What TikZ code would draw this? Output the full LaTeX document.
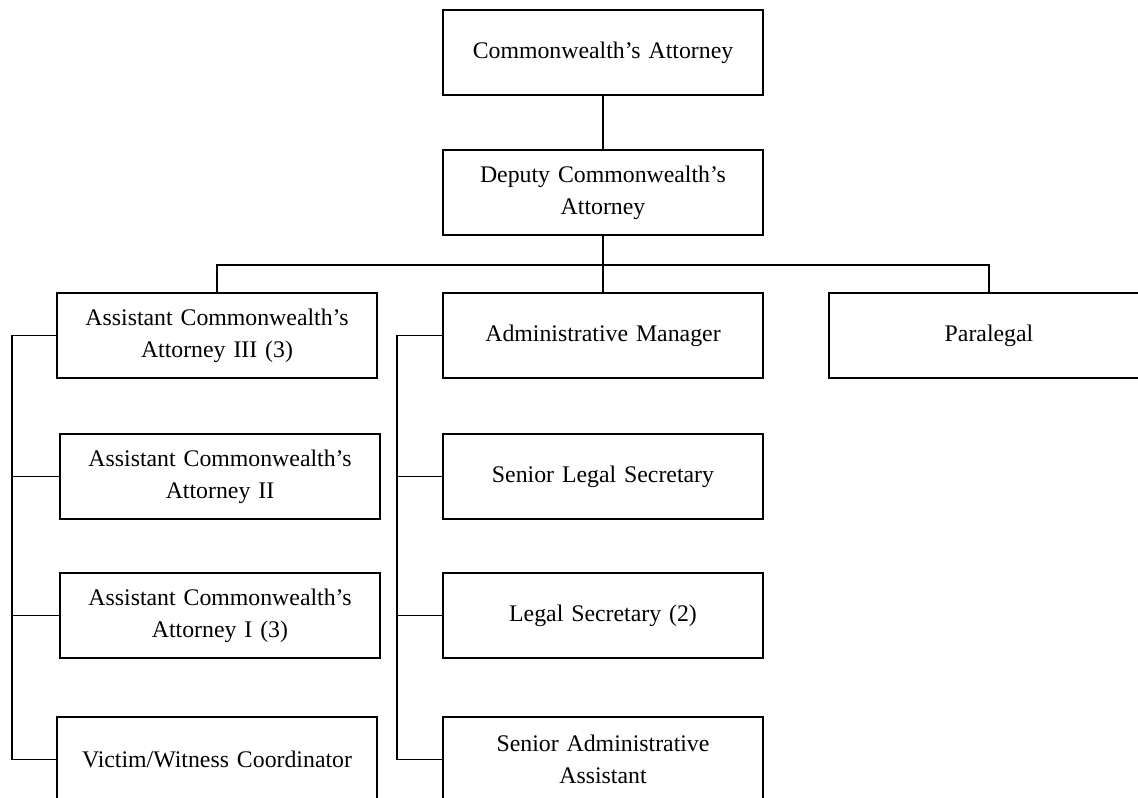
\documentclass[tikz,border=0pt]{standalone}
\usepackage{fontspec}
\setmainfont{Liberation Serif}
\usetikzlibrary{positioning}

\begin{document}
\begin{tikzpicture}[x=0.5pt,y=-0.5pt,node distance=28pt,line width=0.9pt,
    post/.style={rectangle,draw,line width=1pt,minimum width=160pt,minimum height=42.5pt,
        text width=155pt,align=center,font=\fontsize{11.9}{16}\selectfont,inner sep=0pt}]

    \useasboundingbox (0,0) rectangle (1138,797);
    \clip (0,0) rectangle (1138,797);

    \node[post] (ca) at (603,52.5) {Commonwealth’s Attorney};
    \node[post] (dca) [below=26.5pt of ca] {Deputy Commonwealth’s\\Attorney};

    % second row
    \node[post] (adm) [below=28pt of dca] {Administrative Manager};
    \node[post] (aca3) [left=32pt of adm] {Assistant Commonwealth’s\\Attorney III (3)};
    \node[post] (para) [right=32pt of adm] {Paralegal};

    % attorneys column
    \node[post] (aca2) [below=27pt of aca3, xshift=1.5pt] {Assistant Commonwealth’s\\Attorney II};
    \node[post] (aca1) [below=26pt of aca2] {Assistant Commonwealth’s\\Attorney I (3)};
    \node[post] (vwc) [below=28.5pt of aca1, xshift=-1.5pt] {Victim/Witness Coordinator};

    % admin column
    \node[post] (sls) [below=27pt of adm] {Senior Legal Secretary};
    \node[post] (ls) [below=26pt of sls] {Legal Secretary (2)};
    \node[post] (saa) [below=28.5pt of ls] {Senior Administrative\\Assistant};

    \coordinate (bus) at (603,265);
    \coordinate (lbus) at (12,0);
    \coordinate (abus) at (397,0);

    \draw (ca) -- (dca);
    \draw (dca) -- (adm);
    \draw (aca3.north) -- (aca3.north |- bus) -- (para.north |- bus) -- (para.north);

    \draw (aca3.west) -- (aca3.west -| lbus) |- (vwc.west);
    \draw (aca2.west) -- (aca2.west -| lbus);
    \draw (aca1.west) -- (aca1.west -| lbus);

    \draw (adm.west) -- (adm.west -| abus) |- (saa.west);
    \draw (sls.west) -- (sls.west -| abus);
    \draw (ls.west) -- (ls.west -| abus);
\end{tikzpicture}
\end{document}
